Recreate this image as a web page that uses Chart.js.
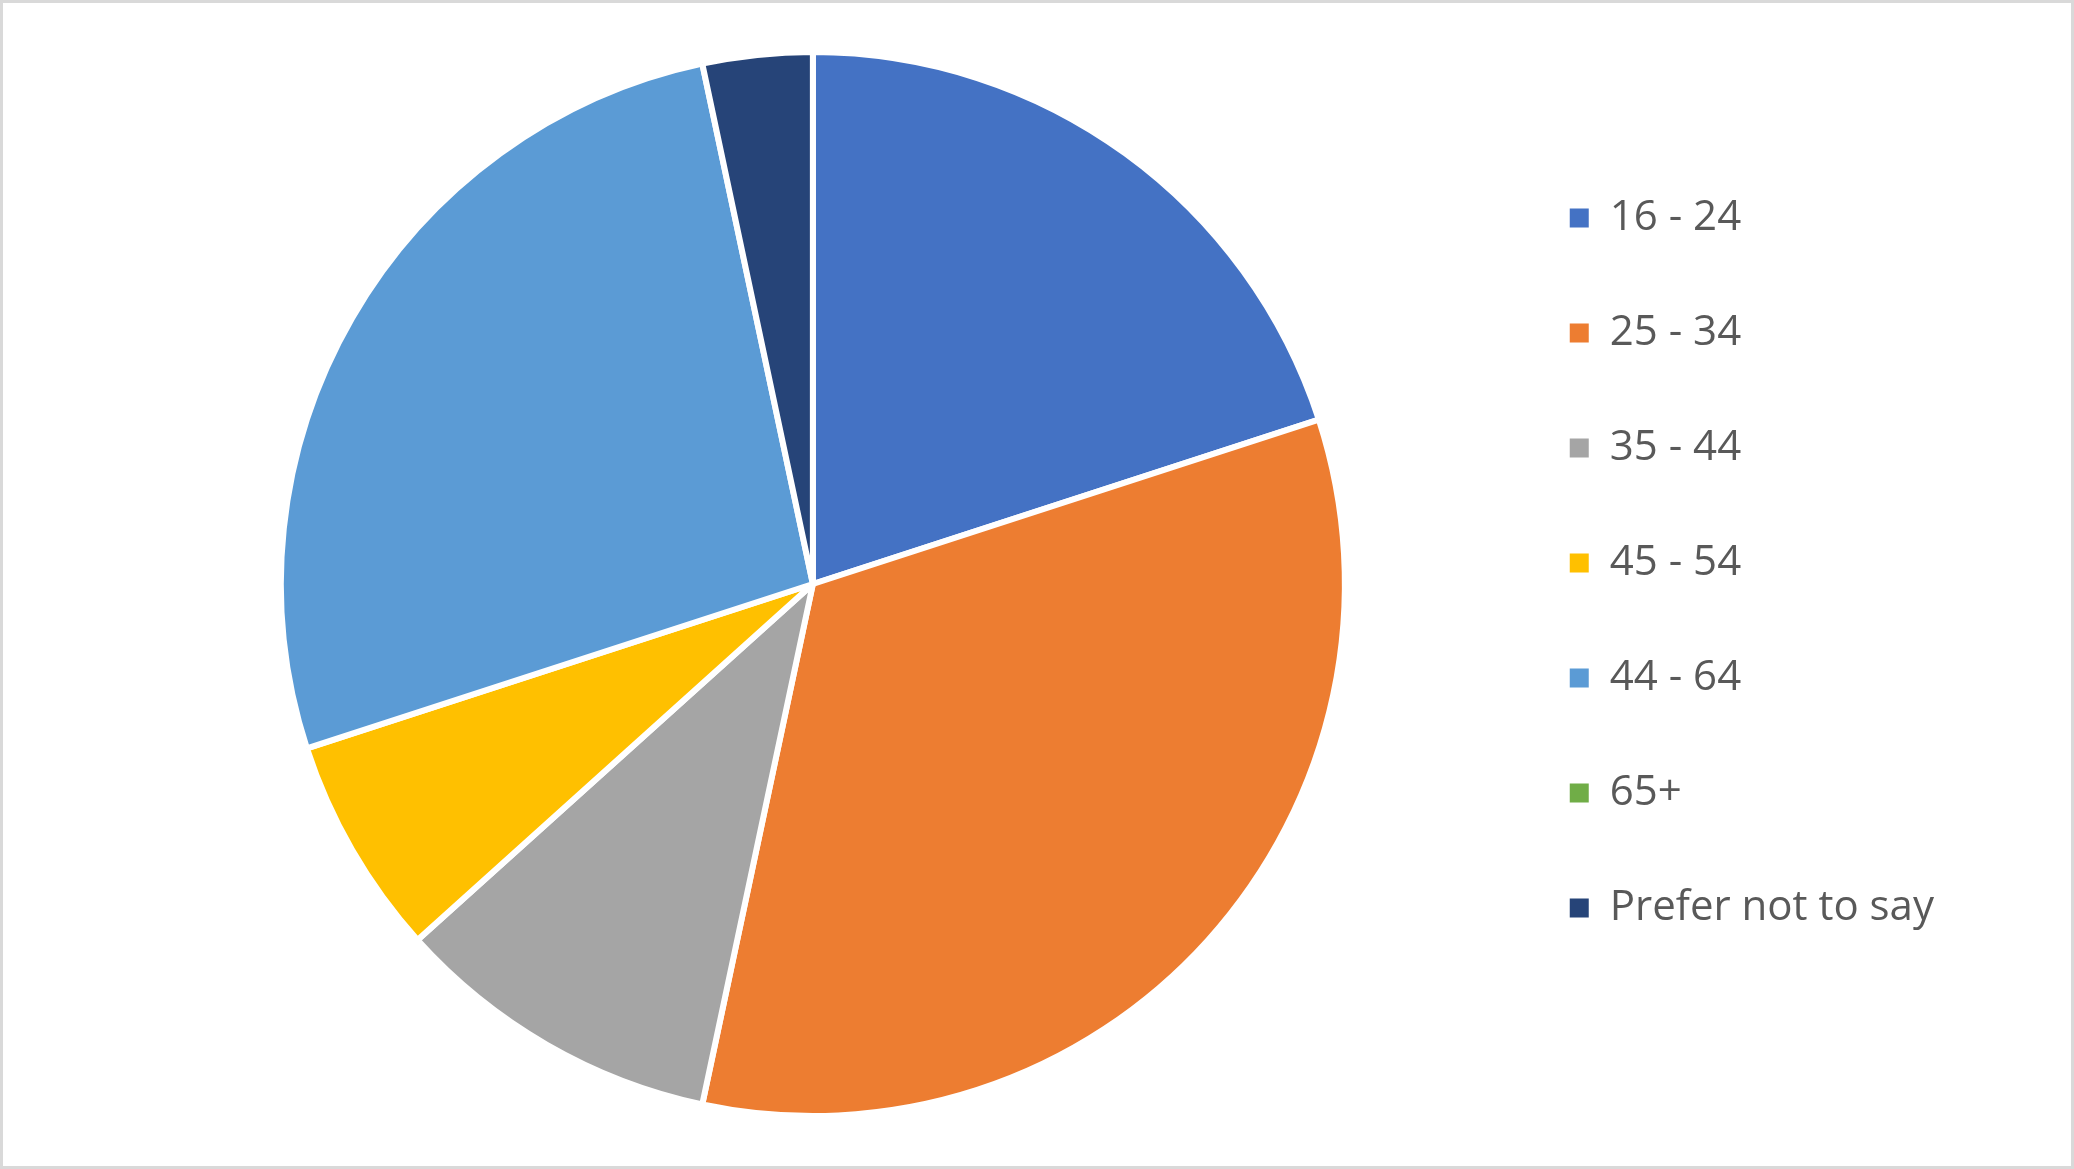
<!DOCTYPE html>
<html>
<head>
<meta charset="utf-8">
<script src="https://cdn.jsdelivr.net/npm/chart.js@4"></script>
<style>
  html, body { margin:0; padding:0; background:#fff; }
  #wrap { position:relative; width:2074px; height:1169px; box-sizing:border-box; border:3px solid #d9d9d9; }
</style>
</head>
<body>
<div id="wrap"><canvas id="pie"></canvas></div>
<script>
const labels = ['16 - 24', '25 - 34', '35 - 44', '45 - 54', '44 - 64', '65+', 'Prefer not to say'];
const counts = [6, 10, 3, 2, 8, 0, 1];
const colors = ['#4472C4', '#ED7D31', '#A5A5A5', '#FFC000', '#5B9BD5', '#70AD47', '#264478'];

// nudge legend block up a little (the pie sits lower than the legend column)
const legendShift = {
  id: 'legendShift',
  afterLayout(chart){
    chart.legend.top -= 21;
    chart.legend.bottom -= 21;
  }
};

const baseLabels = Chart.overrides.doughnut.plugins.legend.labels.generateLabels;

new Chart(document.getElementById('pie'), {
  type: 'pie',
  data: { labels, datasets: [{ data: counts, backgroundColor: colors, borderColor: '#ffffff', borderWidth: 6 }] },
  options: {
    responsive: true,
    maintainAspectRatio: false,
    animation: false,
    layout: { padding: { left: 126, right: 127, top: 46, bottom: 47 } },
    plugins: {
      tooltip: { enabled: false },
      legend: {
        position: 'right',
        align: 'center',
        labels: {
          color: '#595959',
          font: { family: 'Open Sans', size: 42 },
          boxWidth: 19,
          boxHeight: 19,
          padding: 73,
          generateLabels: chart => baseLabels(chart).map(l => ({ ...l, lineWidth: 0, strokeStyle: l.fillStyle }))
        }
      }
    }
  },
  plugins: [legendShift]
});
</script>
</body>
</html>
